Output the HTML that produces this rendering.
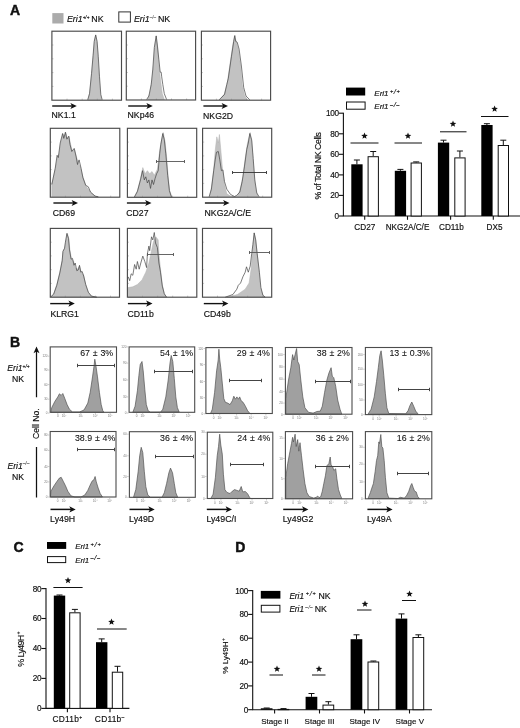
<!DOCTYPE html>
<html lang="en"><head><meta charset="utf-8"><title>Figure</title>
<style>html,body{margin:0;padding:0;background:#fff}svg{display:block}text{stroke:#111;stroke-width:.16px}text.t{stroke:none}</style></head>
<body>
<svg width="520" height="728" viewBox="0 0 520 728" font-family='"Liberation Sans", Arial, sans-serif' fill="#111">
<rect width="520" height="728" fill="#fff"/>
<text x="10.0" y="14.5" font-size="14" font-weight="bold" style="stroke-width:.45px">A</text>
<text x="10.0" y="347.3" font-size="14" font-weight="bold" style="stroke-width:.45px">B</text>
<text x="13.6" y="551.8" font-size="14" font-weight="bold" style="stroke-width:.45px">C</text>
<text x="235.3" y="551.8" font-size="14" font-weight="bold" style="stroke-width:.45px">D</text>
<rect x="52.3" y="13.1" width="11.2" height="10.4" fill="#ababab"/>
<text x="66.9" y="21.6" font-size="8.9" text-anchor="start"><tspan font-style="italic">Eri1</tspan><tspan font-size="4.6" dx="0.0" dy="-3.0" font-style="italic" fill="#111" stroke="#111" letter-spacing="0.0">+/+</tspan><tspan dy="3.0" dx="-0.6"> NK</tspan></text>
<rect x="118.8" y="11.9" width="11.6" height="10.2" fill="#fff" stroke="#333" stroke-width="1"/>
<text x="133.9" y="21.6" font-size="8.9" text-anchor="start"><tspan font-style="italic">Eri1</tspan><tspan font-size="4.6" dx="0.0" dy="-3.0" font-style="italic" fill="#777" stroke="#777" letter-spacing="0.0">–/–</tspan><tspan dy="3.0" dx="-0.6"> NK</tspan></text>
<polygon points="88.0,99.8 89.8,92.2 91.8,72.2 93.4,53.7 94.6,39.8 95.7,35.2 96.9,41.4 98.0,56.8 99.2,76.8 100.3,93.7 101.5,99.8" fill="#c2c2c2" stroke="#b0b0b0" stroke-width="0.5"/>
<polyline points="87.7,99.8 89.5,93.7 91.5,73.7 93.1,55.2 94.2,41.4 95.7,34.9 97.1,41.4 98.3,56.8 99.5,76.8 100.8,94.5 102.2,99.8" fill="none" stroke="#444" stroke-width="0.7" stroke-linejoin="round"/>
<path d="M51.9 86.4h1.6M51.9 72.6h1.6M51.9 58.8h1.6M51.9 45.0h1.6M67.0 100.2v-1.6M82.2 100.2v-1.6M97.3 100.2v-1.6M112.4 100.2v-1.6" stroke="#999" stroke-width="0.5" fill="none"/>
<rect x="51.9" y="31.2" width="69.6" height="69.0" fill="none" stroke="#4a4a4a" stroke-width="1.15"/>
<line x1="52.2" y1="106.0" x2="73.8" y2="106.0" stroke="#111" stroke-width="1.4"/>
<polygon points="76.8,106.0 70.4,102.9 72.0,106.0 70.4,109.1" fill="#111"/>
<text x="51.6" y="118.3" font-size="8.7">NK1.1</text>
<polygon points="147.4,99.5 149.7,93.7 152.0,79.8 153.5,64.5 154.6,47.5 156.2,35.5 157.7,47.5 158.9,64.5 160.5,79.8 162.3,93.7 164.3,99.5" fill="#c2c2c2" stroke="#b0b0b0" stroke-width="0.5"/>
<polyline points="146.6,99.5 148.9,96.0 151.2,84.5 152.8,69.1 154.3,47.5 156.2,36.0 157.4,46.0 158.9,59.8 160.2,72.2 161.2,72.2 161.7,76.8 162.8,84.5 164.3,93.7 166.6,99.5" fill="none" stroke="#444" stroke-width="0.7" stroke-linejoin="round"/>
<path d="M126.3 86.2h1.6M126.3 72.5h1.6M126.3 58.7h1.6M126.3 45.0h1.6M141.4 100.0v-1.6M156.4 100.0v-1.6M171.5 100.0v-1.6M186.6 100.0v-1.6" stroke="#999" stroke-width="0.5" fill="none"/>
<rect x="126.3" y="31.2" width="69.3" height="68.8" fill="none" stroke="#4a4a4a" stroke-width="1.15"/>
<line x1="128.2" y1="106.0" x2="149.8" y2="106.0" stroke="#111" stroke-width="1.4"/>
<polygon points="152.8,106.0 146.4,102.9 148.0,106.0 146.4,109.1" fill="#111"/>
<text x="127.6" y="118.3" font-size="8.7">NKp46</text>
<polygon points="219.8,99.8 224.5,93.7 227.5,81.4 230.6,59.8 232.9,44.5 234.5,36.0 236.3,41.4 238.3,49.1 240.6,66.0 242.2,84.5 244.5,95.2 247.5,99.8" fill="#c2c2c2" stroke="#b0b0b0" stroke-width="0.5"/>
<polyline points="219.1,99.8 224.5,94.5 226.8,84.5 228.3,78.3 231.4,56.8 233.7,41.4 234.8,35.5 235.7,41.4 237.2,42.2 239.1,49.1 241.4,66.0 243.7,87.5 246.0,96.0 249.8,99.8" fill="none" stroke="#444" stroke-width="0.7" stroke-linejoin="round"/>
<path d="M201.4 86.4h1.6M201.4 72.6h1.6M201.4 58.8h1.6M201.4 45.0h1.6M216.4 100.2v-1.6M231.5 100.2v-1.6M246.5 100.2v-1.6M261.6 100.2v-1.6" stroke="#999" stroke-width="0.5" fill="none"/>
<rect x="201.4" y="31.2" width="69.2" height="69.0" fill="none" stroke="#4a4a4a" stroke-width="1.15"/>
<line x1="203.4" y1="106.0" x2="225.0" y2="106.0" stroke="#111" stroke-width="1.4"/>
<polygon points="228.0,106.0 221.6,102.9 223.2,106.0 221.6,109.1" fill="#111"/>
<text x="203.1" y="118.6" font-size="8.7">NKG2D</text>
<polygon points="51.8,196.8 51.8,184.5 55.2,169.2 57.5,156.8 59.1,153.8 60.6,143.0 62.9,133.8 64.2,136.8 65.7,132.5 67.5,138.4 69.1,136.8 70.3,143.0 72.2,150.7 74.5,149.2 76.0,155.3 78.3,163.0 80.6,167.6 82.9,176.8 86.0,186.1 90.6,192.2 95.2,196.1 98.3,196.8" fill="#c2c2c2" stroke="#b0b0b0" stroke-width="0.5"/>
<polyline points="51.8,184.5 55.2,168.4 57.1,155.3 58.3,157.6 60.2,143.0 62.6,133.5 63.8,138.4 65.4,132.2 66.9,139.2 68.8,136.1 70.0,144.5 71.8,151.5 74.2,148.4 76.0,156.1 77.5,164.5 79.1,159.9 81.1,168.4 82.9,177.6 85.7,185.3 88.3,186.8 90.6,192.2 95.2,196.2 98.3,196.8" fill="none" stroke="#444" stroke-width="0.7" stroke-linejoin="round"/>
<path d="M50.3 183.4h1.6M50.3 169.6h1.6M50.3 155.9h1.6M50.3 142.1h1.6M65.4 197.2v-1.6M80.5 197.2v-1.6M95.6 197.2v-1.6M110.7 197.2v-1.6" stroke="#999" stroke-width="0.5" fill="none"/>
<rect x="50.3" y="128.3" width="69.5" height="68.9" fill="none" stroke="#4a4a4a" stroke-width="1.15"/>
<line x1="53.4" y1="203.0" x2="75.0" y2="203.0" stroke="#111" stroke-width="1.4"/>
<polygon points="78.0,203.0 71.6,199.9 73.2,203.0 71.6,206.1" fill="#111"/>
<text x="52.8" y="216.4" font-size="8.7">CD69</text>
<polygon points="134.3,197.2 137.4,190.7 140.5,178.4 142.8,167.6 145.1,173.8 147.4,170.7 149.7,173.8 152.0,171.5 154.3,175.3 157.4,169.2 159.7,150.7 161.2,141.5 163.2,132.5 165.1,141.5 166.6,156.8 168.2,176.8 169.7,190.7 172.0,197.2" fill="#c2c2c2" stroke="#b0b0b0" stroke-width="0.5"/>
<polyline points="134.3,197.2 137.4,191.5 140.5,179.9 142.5,170.7 144.3,179.9 145.8,176.8 147.4,183.0 148.9,179.9 150.5,188.4 152.0,179.9 153.5,184.5 155.1,178.4 156.6,173.8 158.2,170.7 159.7,153.8 160.8,144.5 162.8,133.5 164.3,139.9 165.8,153.8 167.7,175.3 169.4,190.7 171.5,197.2" fill="none" stroke="#444" stroke-width="0.7" stroke-linejoin="round"/>
<path d="M127.4 183.5h1.6M127.4 169.7h1.6M127.4 155.9h1.6M127.4 142.1h1.6M142.5 197.3v-1.6M157.5 197.3v-1.6M172.6 197.3v-1.6M187.7 197.3v-1.6" stroke="#999" stroke-width="0.5" fill="none"/>
<rect x="127.4" y="128.3" width="69.3" height="69.0" fill="none" stroke="#4a4a4a" stroke-width="1.15"/>
<path d="M156.5 161.5H184.5M156.5 160.0v3.0M184.5 160.0v3.0" stroke="#555" stroke-width="0.90" fill="none"/>
<line x1="126.9" y1="203.0" x2="148.5" y2="203.0" stroke="#111" stroke-width="1.4"/>
<polygon points="151.5,203.0 145.1,199.9 146.7,203.0 145.1,206.1" fill="#111"/>
<text x="126.3" y="216.2" font-size="8.7">CD27</text>
<polygon points="209.5,196.8 211.4,187.6 213.7,169.2 215.2,150.7 216.8,136.8 218.3,143.0 219.4,134.5 220.6,147.6 222.2,166.1 224.5,184.5 226.8,193.8 231.4,196.5 236.8,196.5 239.8,190.7 242.9,176.8 245.2,158.4 247.5,143.0 249.1,136.8 250.2,132.5 251.7,141.5 253.2,161.5 254.8,181.5 256.3,192.2 258.3,196.8" fill="#c2c2c2" stroke="#b0b0b0" stroke-width="0.5"/>
<polyline points="209.1,196.8 211.4,189.2 213.7,170.7 215.2,159.9 216.5,152.2 218.3,151.5 219.8,159.9 221.4,170.7 222.9,169.9 224.5,181.5 226.8,189.2 230.6,194.5 234.5,196.5 236.8,195.3 239.8,192.2 242.2,181.5 244.5,166.1 246.8,149.2 248.3,143.0 249.8,133.5 251.7,139.9 253.2,158.4 254.8,179.9 256.8,193.0 259.1,196.8" fill="none" stroke="#444" stroke-width="0.7" stroke-linejoin="round"/>
<path d="M202.6 183.4h1.6M202.6 169.6h1.6M202.6 155.9h1.6M202.6 142.1h1.6M217.6 197.2v-1.6M232.6 197.2v-1.6M247.7 197.2v-1.6M262.7 197.2v-1.6" stroke="#999" stroke-width="0.5" fill="none"/>
<rect x="202.6" y="128.3" width="69.1" height="68.9" fill="none" stroke="#4a4a4a" stroke-width="1.15"/>
<path d="M232.5 172.5H266.5M232.5 171.0v3.0M266.5 171.0v3.0" stroke="#333" stroke-width="0.90" fill="none"/>
<line x1="204.9" y1="203.0" x2="226.5" y2="203.0" stroke="#111" stroke-width="1.4"/>
<polygon points="229.5,203.0 223.1,199.9 224.7,203.0 223.1,206.1" fill="#111"/>
<text x="204.6" y="216.2" font-size="8.7">NKG2A/C/E</text>
<polygon points="50.9,296.8 53.7,293.8 56.8,284.5 59.8,272.2 62.2,259.9 63.2,250.7 64.8,247.6 65.7,241.5 67.2,233.0 68.8,238.4 69.8,249.2 71.4,258.4 73.7,261.5 75.2,267.6 77.5,269.2 79.5,266.1 81.4,272.2 83.7,275.3 85.7,284.5 88.3,292.2 91.4,296.1 96.8,297.2" fill="#c2c2c2" stroke="#b0b0b0" stroke-width="0.5"/>
<polyline points="50.9,296.8 53.7,294.1 56.8,285.3 59.8,273.0 62.2,260.7 62.9,251.5 64.5,248.4 65.4,242.2 66.9,233.5 68.5,238.4 69.5,249.9 71.1,259.2 72.5,258.4 74.0,265.3 75.2,263.0 76.8,270.7 78.3,269.9 79.5,265.3 80.8,272.2 82.2,271.5 83.7,276.1 85.7,284.5 88.3,292.2 91.4,296.1 96.8,297.2" fill="none" stroke="#444" stroke-width="0.7" stroke-linejoin="round"/>
<path d="M50.3 283.4h1.6M50.3 269.7h1.6M50.3 255.9h1.6M50.3 242.2h1.6M65.3 297.2v-1.6M80.4 297.2v-1.6M95.4 297.2v-1.6M110.5 297.2v-1.6" stroke="#999" stroke-width="0.5" fill="none"/>
<rect x="50.3" y="228.4" width="69.2" height="68.8" fill="none" stroke="#4a4a4a" stroke-width="1.15"/>
<line x1="50.2" y1="303.6" x2="71.8" y2="303.6" stroke="#111" stroke-width="1.4"/>
<polygon points="74.8,303.6 68.4,300.5 70.0,303.6 68.4,306.7" fill="#111"/>
<text x="50.4" y="317.0" font-size="8.7">KLRG1</text>
<polygon points="128.2,297.2 128.2,287.6 132.8,286.8 137.4,284.5 142.0,279.9 145.8,272.2 148.9,263.0 151.2,252.2 153.5,241.5 155.8,236.8 158.2,239.9 158.9,253.8 160.5,269.2 162.3,284.5 164.3,293.8 166.6,297.2" fill="#c2c2c2" stroke="#b0b0b0" stroke-width="0.5"/>
<polyline points="128.2,276.8 129.7,280.7 131.2,273.8 132.8,275.3 134.6,264.5 136.2,269.2 137.4,261.5 139.2,269.2 140.8,263.0 142.8,256.1 144.8,261.5 146.6,267.6 147.4,253.8 148.9,246.1 149.7,250.7 151.5,236.8 152.8,239.9 154.3,232.5 155.5,243.0 157.4,247.6 158.9,263.0 160.5,272.2 162.3,286.1 164.3,293.8 166.6,297.2" fill="none" stroke="#444" stroke-width="0.7" stroke-linejoin="round"/>
<path d="M127.4 283.4h1.6M127.4 269.7h1.6M127.4 255.9h1.6M127.4 242.2h1.6M142.5 297.2v-1.6M157.6 297.2v-1.6M172.7 297.2v-1.6M187.7 297.2v-1.6" stroke="#999" stroke-width="0.5" fill="none"/>
<rect x="127.4" y="228.4" width="69.4" height="68.8" fill="none" stroke="#4a4a4a" stroke-width="1.15"/>
<path d="M147.5 254.5H173.5M147.5 253.0v3.0M173.5 253.0v3.0" stroke="#555" stroke-width="0.90" fill="none"/>
<line x1="127.9" y1="303.6" x2="149.5" y2="303.6" stroke="#111" stroke-width="1.4"/>
<polygon points="152.5,303.6 146.1,300.5 147.7,303.6 146.1,306.7" fill="#111"/>
<text x="127.4" y="316.6" font-size="8.7">CD11b</text>
<polygon points="226.8,297.2 237.5,294.5 245.2,289.2 249.1,283.0 251.1,269.2 252.6,249.2 254.2,232.5 255.7,239.9 257.2,253.8 258.8,269.2 260.6,287.6 262.9,295.3 265.2,297.2" fill="#c2c2c2" stroke="#b0b0b0" stroke-width="0.5"/>
<polyline points="225.2,297.2 232.9,294.5 236.8,289.2 238.3,285.3 240.6,283.0 242.9,276.8 245.2,272.2 246.5,266.8 248.3,272.2 250.2,266.1 251.7,253.8 252.9,244.5 254.2,233.0 255.7,239.9 257.2,253.8 258.3,263.0 259.4,272.2 260.9,287.6 262.9,295.3 265.2,297.2" fill="none" stroke="#444" stroke-width="0.7" stroke-linejoin="round"/>
<path d="M202.5 283.4h1.6M202.5 269.7h1.6M202.5 255.9h1.6M202.5 242.2h1.6M217.5 297.2v-1.6M232.6 297.2v-1.6M247.6 297.2v-1.6M262.7 297.2v-1.6" stroke="#999" stroke-width="0.5" fill="none"/>
<rect x="202.5" y="228.4" width="69.2" height="68.8" fill="none" stroke="#4a4a4a" stroke-width="1.15"/>
<path d="M249.5 252.5H269.5M249.5 251.0v3.0M269.5 251.0v3.0" stroke="#555" stroke-width="0.90" fill="none"/>
<line x1="203.8" y1="303.6" x2="225.4" y2="303.6" stroke="#111" stroke-width="1.4"/>
<polygon points="228.4,303.6 222.0,300.5 223.6,303.6 222.0,306.7" fill="#111"/>
<text x="203.7" y="316.8" font-size="8.7">CD49b</text>
<path d="M343.4 112.7V216.0H520.0" stroke="#111" stroke-width="1.1" fill="none"/>
<line x1="338.9" y1="216.0" x2="343.4" y2="216.0" stroke="#111" stroke-width="1.1"/>
<text x="338.7" y="218.9" font-size="8.2" text-anchor="end" letter-spacing="-0.3">0</text>
<line x1="338.9" y1="195.4" x2="343.4" y2="195.4" stroke="#111" stroke-width="1.1"/>
<text x="338.7" y="198.3" font-size="8.2" text-anchor="end" letter-spacing="-0.3">20</text>
<line x1="338.9" y1="174.9" x2="343.4" y2="174.9" stroke="#111" stroke-width="1.1"/>
<text x="338.7" y="177.8" font-size="8.2" text-anchor="end" letter-spacing="-0.3">40</text>
<line x1="338.9" y1="154.3" x2="343.4" y2="154.3" stroke="#111" stroke-width="1.1"/>
<text x="338.7" y="157.2" font-size="8.2" text-anchor="end" letter-spacing="-0.3">60</text>
<line x1="338.9" y1="133.8" x2="343.4" y2="133.8" stroke="#111" stroke-width="1.1"/>
<text x="338.7" y="136.7" font-size="8.2" text-anchor="end" letter-spacing="-0.3">80</text>
<line x1="338.9" y1="113.2" x2="343.4" y2="113.2" stroke="#111" stroke-width="1.1"/>
<text x="338.7" y="116.1" font-size="8.2" text-anchor="end" letter-spacing="-0.3">100</text>
<path d="M356.9 164.3V160.0M353.9 160.0H359.9" stroke="#111" stroke-width="1" fill="none"/>
<rect x="351.3" y="164.3" width="11.3" height="51.7" fill="#000"/>
<path d="M373.2 156.2V151.5M370.2 151.5H376.2" stroke="#111" stroke-width="1" fill="none"/>
<rect x="368.1" y="156.7" width="10.3" height="59.3" fill="#fff" stroke="#111" stroke-width="1"/>
<line x1="364.7" y1="216.0" x2="364.7" y2="219.8" stroke="#111" stroke-width="1.1"/>
<text x="364.8" y="229.5" font-size="8.2" text-anchor="middle" letter-spacing="0.00">CD27</text>
<line x1="350.5" y1="143.0" x2="378.5" y2="143.0" stroke="#111" stroke-width="1"/>
<polygon points="364.5,132.5 365.4,134.8 367.8,134.9 365.9,136.5 366.6,138.8 364.5,137.5 362.4,138.8 363.1,136.5 361.2,134.9 363.6,134.8" fill="#111"/>
<path d="M400.4 170.8V169.4M397.4 169.4H403.4" stroke="#111" stroke-width="1" fill="none"/>
<rect x="394.8" y="170.8" width="11.3" height="45.2" fill="#000"/>
<path d="M416.2 162.5V161.9M413.2 161.9H419.2" stroke="#111" stroke-width="1" fill="none"/>
<rect x="411.1" y="163.0" width="10.3" height="53.0" fill="#fff" stroke="#111" stroke-width="1"/>
<line x1="407.5" y1="216.0" x2="407.5" y2="219.8" stroke="#111" stroke-width="1.1"/>
<text x="407.5" y="229.5" font-size="8.2" text-anchor="middle" letter-spacing="0.00">NKG2A/C/E</text>
<line x1="394.5" y1="143.0" x2="422.0" y2="143.0" stroke="#111" stroke-width="1"/>
<polygon points="408.0,132.5 408.9,134.8 411.3,134.9 409.4,136.5 410.1,138.8 408.0,137.5 405.9,138.8 406.6,136.5 404.7,134.9 407.1,134.8" fill="#111"/>
<path d="M443.5 142.6V140.2M440.5 140.2H446.5" stroke="#111" stroke-width="1" fill="none"/>
<rect x="437.9" y="142.6" width="11.3" height="73.4" fill="#000"/>
<path d="M459.9 157.4V151.0M456.9 151.0H462.9" stroke="#111" stroke-width="1" fill="none"/>
<rect x="454.8" y="157.9" width="10.3" height="58.1" fill="#fff" stroke="#111" stroke-width="1"/>
<line x1="450.6" y1="216.0" x2="450.6" y2="219.8" stroke="#111" stroke-width="1.1"/>
<text x="451.5" y="229.5" font-size="8.2" text-anchor="middle" letter-spacing="0.00">CD11b</text>
<line x1="440.0" y1="131.8" x2="466.5" y2="131.8" stroke="#111" stroke-width="1"/>
<polygon points="453.0,120.5 453.9,122.8 456.3,122.9 454.4,124.5 455.1,126.8 453.0,125.5 450.9,126.8 451.6,124.5 449.7,122.9 452.1,122.8" fill="#111"/>
<path d="M486.9 125.0V123.7M483.9 123.7H489.9" stroke="#111" stroke-width="1" fill="none"/>
<rect x="481.3" y="125.0" width="11.3" height="91.0" fill="#000"/>
<path d="M503.3 145.0V140.2M500.3 140.2H506.3" stroke="#111" stroke-width="1" fill="none"/>
<rect x="498.2" y="145.5" width="10.3" height="70.5" fill="#fff" stroke="#111" stroke-width="1"/>
<line x1="493.3" y1="216.0" x2="493.3" y2="219.8" stroke="#111" stroke-width="1.1"/>
<text x="494.5" y="229.5" font-size="8.2" text-anchor="middle" letter-spacing="0.00">DX5</text>
<line x1="481.0" y1="116.5" x2="508.5" y2="116.5" stroke="#111" stroke-width="1"/>
<polygon points="494.6,105.5 495.5,107.8 497.9,107.9 496.0,109.5 496.7,111.8 494.6,110.5 492.5,111.8 493.2,109.5 491.3,107.9 493.7,107.8" fill="#111"/>
<rect x="346" y="87.6" width="19.2" height="7.9" fill="#000"/>
<rect x="346.5" y="102" width="18.6" height="7.2" fill="#fff" stroke="#111" stroke-width="1"/>
<text x="374.3" y="95.5" font-size="8.0"><tspan font-style="italic">Eri1</tspan><tspan font-style="italic" font-size="5.6" dx="1.5" dy="-2.3" fill="#111" stroke="#111">+</tspan><tspan font-style="italic" font-size="7.6" dx="0.5" dy="0.6" fill="#111" stroke="#111" stroke-width="0.1">/</tspan><tspan font-style="italic" font-size="5.6" dx="0.5" dy="-0.6" fill="#111" stroke="#111">+</tspan></text>
<text x="374.3" y="109.4" font-size="8.0"><tspan font-style="italic">Eri1</tspan><tspan font-style="italic" font-size="5.6" dx="1.5" dy="-2.9" fill="#111" stroke="#111">–</tspan><tspan font-style="italic" font-size="7.6" dx="0.5" dy="0.6" fill="#111" stroke="#111" stroke-width="0.1">/</tspan><tspan font-style="italic" font-size="5.6" dx="0.5" dy="-0.6" fill="#111" stroke="#111">–</tspan></text>
<text transform="translate(321,166) rotate(-90)" font-size="8.8" text-anchor="middle" letter-spacing="-0.42">% of Total NK Cells</text>
<polygon points="50.9,412.3 51.7,407.7 54.8,401.5 57.8,396.9 59.4,393.8 61.2,395.4 62.8,393.5 64.8,398.5 67.1,404.6 69.4,409.2 72.5,412.0 79.4,412.0 84.0,410.0 87.8,403.1 90.2,392.3 92.5,376.9 94.0,366.2 94.8,359.2 96.0,366.2 97.5,376.9 99.4,392.3 101.2,404.6 102.8,410.8 104.0,412.3" fill="#a0a0a0" stroke="#4a4a4a" stroke-width="0.65" stroke-linejoin="round"/>
<rect x="50.2" y="346.9" width="66.3" height="65.4" fill="none" stroke="#4c4c4c" stroke-width="1.1"/>
<path d="M77.5 365.5H114.5M77.5 363.8v3.4M114.5 363.8v3.4" stroke="#444" stroke-width="1.00" fill="none"/>
<text style="stroke-width:.08px" x="113.2" y="355.8" font-size="8.8" text-anchor="end" word-spacing="0.4">67 ± 3%</text>
<text class="t" x="57.8" y="417.3" font-size="3.1" fill="#777" text-anchor="middle">0</text>
<text class="t" x="64.0" y="417.3" font-size="3.1" fill="#777" text-anchor="middle">10²</text>
<text class="t" x="80.8" y="417.3" font-size="3.1" fill="#777" text-anchor="middle">10³</text>
<text class="t" x="95.4" y="417.3" font-size="3.1" fill="#777" text-anchor="middle">10⁴</text>
<text class="t" x="110.1" y="417.3" font-size="3.1" fill="#777" text-anchor="middle">10⁵</text>
<text class="t" x="47.6" y="357.2" font-size="3.1" fill="#777" text-anchor="end">120</text>
<text class="t" x="47.6" y="371.0" font-size="3.1" fill="#777" text-anchor="end">90</text>
<text class="t" x="47.6" y="385.6" font-size="3.1" fill="#777" text-anchor="end">60</text>
<text class="t" x="47.6" y="400.2" font-size="3.1" fill="#777" text-anchor="end">30</text>
<text class="t" x="47.6" y="414.1" font-size="3.1" fill="#777" text-anchor="end">0</text>
<path d="M57.8 412.9v1.4M64.0 412.9v1.4M80.8 412.9v1.4M95.4 412.9v1.4M110.1 412.9v1.4M48.0 356.2h1.6M48.0 370.0h1.6M48.0 384.6h1.6M48.0 399.2h1.6M48.0 413.1h1.6" stroke="#999" stroke-width="0.5" fill="none"/>
<polygon points="132.8,412.3 135.1,406.2 137.4,390.8 138.9,375.4 140.2,364.6 142.0,361.5 143.2,370.8 144.8,389.2 146.3,404.6 148.2,410.8 150.5,412.3 160.5,412.3 162.8,409.2 165.8,396.9 168.2,380.0 170.0,363.1 171.2,355.4 172.8,361.5 174.3,378.5 175.8,396.9 177.4,407.7 179.2,412.0" fill="#a0a0a0" stroke="#4a4a4a" stroke-width="0.65" stroke-linejoin="round"/>
<rect x="129.1" y="346.9" width="65.6" height="65.4" fill="none" stroke="#4c4c4c" stroke-width="1.1"/>
<path d="M154.5 371.5H192.5M154.5 369.8v3.4M192.5 369.8v3.4" stroke="#444" stroke-width="1.00" fill="none"/>
<text style="stroke-width:.08px" x="193.1" y="355.5" font-size="8.8" text-anchor="end" word-spacing="0.4">54 ± 1%</text>
<text class="t" x="136.6" y="417.3" font-size="3.1" fill="#777" text-anchor="middle">0</text>
<text class="t" x="142.7" y="417.3" font-size="3.1" fill="#777" text-anchor="middle">10²</text>
<text class="t" x="159.4" y="417.3" font-size="3.1" fill="#777" text-anchor="middle">10³</text>
<text class="t" x="173.8" y="417.3" font-size="3.1" fill="#777" text-anchor="middle">10⁴</text>
<text class="t" x="188.4" y="417.3" font-size="3.1" fill="#777" text-anchor="middle">10⁵</text>
<text class="t" x="126.5" y="347.9" font-size="3.1" fill="#777" text-anchor="end">120</text>
<text class="t" x="126.5" y="364.1" font-size="3.1" fill="#777" text-anchor="end">90</text>
<text class="t" x="126.5" y="381.0" font-size="3.1" fill="#777" text-anchor="end">60</text>
<text class="t" x="126.5" y="397.9" font-size="3.1" fill="#777" text-anchor="end">30</text>
<text class="t" x="126.5" y="414.1" font-size="3.1" fill="#777" text-anchor="end">0</text>
<path d="M136.6 412.9v1.4M142.7 412.9v1.4M159.4 412.9v1.4M173.8 412.9v1.4M188.4 412.9v1.4M126.9 346.9h1.6M126.9 363.1h1.6M126.9 380.0h1.6M126.9 396.9h1.6M126.9 413.1h1.6" stroke="#999" stroke-width="0.5" fill="none"/>
<polygon points="210.5,413.5 212.3,409.2 214.6,392.3 216.6,370.8 218.2,360.0 218.9,349.2 219.7,359.2 220.8,367.7 222.3,383.1 223.8,398.5 225.4,402.3 227.7,403.1 230.0,404.6 232.3,400.8 233.8,396.2 235.4,399.2 236.9,396.9 238.5,399.2 239.7,396.9 241.2,400.8 243.1,402.3 245.4,406.2 247.7,410.8 250.0,413.5" fill="#a0a0a0" stroke="#4a4a4a" stroke-width="0.65" stroke-linejoin="round"/>
<rect x="205.9" y="347.6" width="66.4" height="65.9" fill="none" stroke="#4c4c4c" stroke-width="1.1"/>
<path d="M229.5 380.5H261.5M229.5 378.8v3.4M261.5 378.8v3.4" stroke="#444" stroke-width="1.00" fill="none"/>
<text style="stroke-width:.08px" x="269.8" y="355.8" font-size="8.8" text-anchor="end" word-spacing="0.4">29 ± 4%</text>
<text class="t" x="213.5" y="418.5" font-size="3.1" fill="#777" text-anchor="middle">0</text>
<text class="t" x="219.7" y="418.5" font-size="3.1" fill="#777" text-anchor="middle">10²</text>
<text class="t" x="236.6" y="418.5" font-size="3.1" fill="#777" text-anchor="middle">10³</text>
<text class="t" x="251.2" y="418.5" font-size="3.1" fill="#777" text-anchor="middle">10⁴</text>
<text class="t" x="265.9" y="418.5" font-size="3.1" fill="#777" text-anchor="middle">10⁵</text>
<text class="t" x="203.3" y="349.5" font-size="3.1" fill="#777" text-anchor="end">120</text>
<text class="t" x="203.3" y="365.6" font-size="3.1" fill="#777" text-anchor="end">90</text>
<text class="t" x="203.3" y="382.5" font-size="3.1" fill="#777" text-anchor="end">60</text>
<text class="t" x="203.3" y="398.7" font-size="3.1" fill="#777" text-anchor="end">30</text>
<text class="t" x="203.3" y="414.8" font-size="3.1" fill="#777" text-anchor="end">0</text>
<path d="M213.5 414.1v1.4M219.7 414.1v1.4M236.6 414.1v1.4M251.2 414.1v1.4M265.9 414.1v1.4M203.7 348.5h1.6M203.7 364.6h1.6M203.7 381.5h1.6M203.7 397.7h1.6M203.7 413.8h1.6" stroke="#999" stroke-width="0.5" fill="none"/>
<polygon points="285.8,414.2 285.8,398.5 288.5,380.0 290.8,367.7 292.6,354.6 293.8,360.0 295.1,354.6 296.6,348.5 297.7,361.5 299.2,364.6 300.8,380.0 302.8,396.9 304.9,407.7 308.5,412.3 313.1,413.1 316.9,411.5 320.3,411.1 322.3,406.2 324.6,392.3 326.9,380.0 328.9,373.1 331.1,367.7 332.3,376.2 333.8,377.7 335.7,386.2 337.7,400.0 340.0,409.2 341.8,414.2" fill="#a0a0a0" stroke="#4a4a4a" stroke-width="0.65" stroke-linejoin="round"/>
<rect x="285.4" y="347.5" width="66.6" height="66.7" fill="none" stroke="#4c4c4c" stroke-width="1.1"/>
<path d="M315.5 381.5H350.5M315.5 379.8v3.4M350.5 379.8v3.4" stroke="#444" stroke-width="1.00" fill="none"/>
<text style="stroke-width:.08px" x="349.8" y="355.8" font-size="8.8" text-anchor="end" word-spacing="0.4">38 ± 2%</text>
<text class="t" x="293.0" y="419.2" font-size="3.1" fill="#777" text-anchor="middle">0</text>
<text class="t" x="299.3" y="419.2" font-size="3.1" fill="#777" text-anchor="middle">10²</text>
<text class="t" x="316.2" y="419.2" font-size="3.1" fill="#777" text-anchor="middle">10³</text>
<text class="t" x="330.8" y="419.2" font-size="3.1" fill="#777" text-anchor="middle">10⁴</text>
<text class="t" x="345.6" y="419.2" font-size="3.1" fill="#777" text-anchor="middle">10⁵</text>
<text class="t" x="282.8" y="355.6" font-size="3.1" fill="#777" text-anchor="end">100</text>
<text class="t" x="282.8" y="367.9" font-size="3.1" fill="#777" text-anchor="end">80</text>
<text class="t" x="282.8" y="380.2" font-size="3.1" fill="#777" text-anchor="end">60</text>
<text class="t" x="282.8" y="392.5" font-size="3.1" fill="#777" text-anchor="end">40</text>
<text class="t" x="282.8" y="404.1" font-size="3.1" fill="#777" text-anchor="end">20</text>
<text class="t" x="282.8" y="415.6" font-size="3.1" fill="#777" text-anchor="end">0</text>
<path d="M293.0 414.8v1.4M299.3 414.8v1.4M316.2 414.8v1.4M330.8 414.8v1.4M345.6 414.8v1.4M283.2 354.6h1.6M283.2 366.9h1.6M283.2 379.2h1.6M283.2 391.5h1.6M283.2 403.1h1.6M283.2 414.6h1.6" stroke="#999" stroke-width="0.5" fill="none"/>
<polygon points="368.0,414.2 371.1,409.2 374.2,396.9 376.5,381.5 378.3,367.7 379.8,355.4 381.1,350.8 382.3,360.0 383.8,375.4 385.4,393.8 386.9,407.7 388.8,413.5 405.7,413.8 408.0,410.8 410.0,405.4 411.8,402.0 413.7,406.2 415.7,411.1 418.0,413.8" fill="#a0a0a0" stroke="#4a4a4a" stroke-width="0.65" stroke-linejoin="round"/>
<rect x="365.4" y="347.5" width="66.4" height="67.1" fill="none" stroke="#4c4c4c" stroke-width="1.1"/>
<path d="M398.5 389.5H429.5M398.5 387.8v3.4M429.5 387.8v3.4" stroke="#444" stroke-width="1.00" fill="none"/>
<text style="stroke-width:.08px" x="429.8" y="355.8" font-size="8.8" text-anchor="end" word-spacing="0.4">13 ± 0.3%</text>
<text class="t" x="373.0" y="419.6" font-size="3.1" fill="#777" text-anchor="middle">0</text>
<text class="t" x="379.2" y="419.6" font-size="3.1" fill="#777" text-anchor="middle">10²</text>
<text class="t" x="396.1" y="419.6" font-size="3.1" fill="#777" text-anchor="middle">10³</text>
<text class="t" x="410.7" y="419.6" font-size="3.1" fill="#777" text-anchor="middle">10⁴</text>
<text class="t" x="425.4" y="419.6" font-size="3.1" fill="#777" text-anchor="middle">10⁵</text>
<text class="t" x="362.8" y="355.6" font-size="3.1" fill="#777" text-anchor="end">200</text>
<text class="t" x="362.8" y="370.2" font-size="3.1" fill="#777" text-anchor="end">150</text>
<text class="t" x="362.8" y="385.6" font-size="3.1" fill="#777" text-anchor="end">100</text>
<text class="t" x="362.8" y="401.0" font-size="3.1" fill="#777" text-anchor="end">50</text>
<text class="t" x="362.8" y="415.6" font-size="3.1" fill="#777" text-anchor="end">0</text>
<path d="M373.0 415.2v1.4M379.2 415.2v1.4M396.1 415.2v1.4M410.7 415.2v1.4M425.4 415.2v1.4M363.2 354.6h1.6M363.2 369.2h1.6M363.2 384.6h1.6M363.2 400.0h1.6M363.2 414.6h1.6" stroke="#999" stroke-width="0.5" fill="none"/>
<polygon points="50.5,497.0 50.9,491.2 54.0,485.8 57.1,481.2 59.4,478.1 61.2,477.3 63.2,481.2 65.5,485.8 67.8,491.2 70.9,495.8 74.8,497.0 80.9,497.0 84.8,495.0 87.8,490.4 90.2,485.0 92.0,481.2 94.0,479.6 95.1,476.5 96.3,481.9 98.2,488.1 100.2,493.5 102.5,497.0" fill="#a0a0a0" stroke="#4a4a4a" stroke-width="0.65" stroke-linejoin="round"/>
<rect x="50.2" y="431.5" width="65.8" height="65.5" fill="none" stroke="#4c4c4c" stroke-width="1.1"/>
<path d="M77.5 449.5H114.5M77.5 447.8v3.4M114.5 447.8v3.4" stroke="#444" stroke-width="1.00" fill="none"/>
<text style="stroke-width:.08px" x="115.3" y="441.2" font-size="8.8" text-anchor="end" word-spacing="0.4">38.9 ± 4%</text>
<text class="t" x="57.7" y="502.0" font-size="3.1" fill="#777" text-anchor="middle">0</text>
<text class="t" x="63.9" y="502.0" font-size="3.1" fill="#777" text-anchor="middle">10²</text>
<text class="t" x="80.6" y="502.0" font-size="3.1" fill="#777" text-anchor="middle">10³</text>
<text class="t" x="95.1" y="502.0" font-size="3.1" fill="#777" text-anchor="middle">10⁴</text>
<text class="t" x="109.7" y="502.0" font-size="3.1" fill="#777" text-anchor="middle">10⁵</text>
<text class="t" x="47.6" y="436.0" font-size="3.1" fill="#777" text-anchor="end">80</text>
<text class="t" x="47.6" y="451.4" font-size="3.1" fill="#777" text-anchor="end">60</text>
<text class="t" x="47.6" y="467.5" font-size="3.1" fill="#777" text-anchor="end">40</text>
<text class="t" x="47.6" y="482.9" font-size="3.1" fill="#777" text-anchor="end">20</text>
<text class="t" x="47.6" y="498.0" font-size="3.1" fill="#777" text-anchor="end">0</text>
<path d="M57.7 497.6v1.4M63.9 497.6v1.4M80.6 497.6v1.4M95.1 497.6v1.4M109.7 497.6v1.4M48.0 435.0h1.6M48.0 450.4h1.6M48.0 466.5h1.6M48.0 481.9h1.6M48.0 497.0h1.6" stroke="#999" stroke-width="0.5" fill="none"/>
<polygon points="133.5,497.3 135.8,489.6 138.2,471.2 139.7,455.8 141.2,447.3 142.8,452.7 144.3,471.2 145.8,486.5 147.8,495.0 150.5,497.3 162.0,497.3 164.3,492.7 166.6,483.5 168.9,472.7 170.5,468.1 172.5,472.7 174.3,483.5 175.8,492.7 177.7,497.3" fill="#a0a0a0" stroke="#4a4a4a" stroke-width="0.65" stroke-linejoin="round"/>
<rect x="129.4" y="431.7" width="65.9" height="65.6" fill="none" stroke="#4c4c4c" stroke-width="1.1"/>
<path d="M155.5 456.5H193.5M155.5 454.8v3.4M193.5 454.8v3.4" stroke="#444" stroke-width="1.00" fill="none"/>
<text style="stroke-width:.08px" x="193.1" y="441.2" font-size="8.8" text-anchor="end" word-spacing="0.4">36 ± 4%</text>
<text class="t" x="136.9" y="502.3" font-size="3.1" fill="#777" text-anchor="middle">0</text>
<text class="t" x="143.1" y="502.3" font-size="3.1" fill="#777" text-anchor="middle">10²</text>
<text class="t" x="159.8" y="502.3" font-size="3.1" fill="#777" text-anchor="middle">10³</text>
<text class="t" x="174.3" y="502.3" font-size="3.1" fill="#777" text-anchor="middle">10⁴</text>
<text class="t" x="189.0" y="502.3" font-size="3.1" fill="#777" text-anchor="middle">10⁵</text>
<text class="t" x="126.8" y="435.2" font-size="3.1" fill="#777" text-anchor="end">60</text>
<text class="t" x="126.8" y="456.8" font-size="3.1" fill="#777" text-anchor="end">40</text>
<text class="t" x="126.8" y="477.5" font-size="3.1" fill="#777" text-anchor="end">20</text>
<text class="t" x="126.8" y="498.3" font-size="3.1" fill="#777" text-anchor="end">0</text>
<path d="M136.9 497.9v1.4M143.1 497.9v1.4M159.8 497.9v1.4M174.3 497.9v1.4M189.0 497.9v1.4M127.2 434.2h1.6M127.2 455.8h1.6M127.2 476.5h1.6M127.2 497.3h1.6" stroke="#999" stroke-width="0.5" fill="none"/>
<polygon points="210.8,498.5 213.1,494.2 215.4,477.3 217.2,455.8 218.5,446.5 219.7,434.2 220.8,445.0 222.3,454.2 223.4,474.2 224.9,489.6 226.9,492.4 230.0,493.5 232.3,491.2 234.6,489.6 236.9,490.4 239.2,491.2 241.2,486.5 242.8,491.9 245.4,491.5 247.7,493.9 249.5,497.3 250.8,498.5" fill="#a0a0a0" stroke="#4a4a4a" stroke-width="0.65" stroke-linejoin="round"/>
<rect x="207.3" y="432.2" width="65.5" height="66.3" fill="none" stroke="#4c4c4c" stroke-width="1.1"/>
<path d="M230.5 464.5H263.5M230.5 462.8v3.4M263.5 462.8v3.4" stroke="#444" stroke-width="1.00" fill="none"/>
<text style="stroke-width:.08px" x="270.3" y="441.2" font-size="8.8" text-anchor="end" word-spacing="0.4">24 ± 4%</text>
<text class="t" x="214.8" y="503.5" font-size="3.1" fill="#777" text-anchor="middle">0</text>
<text class="t" x="220.9" y="503.5" font-size="3.1" fill="#777" text-anchor="middle">10²</text>
<text class="t" x="237.6" y="503.5" font-size="3.1" fill="#777" text-anchor="middle">10³</text>
<text class="t" x="252.0" y="503.5" font-size="3.1" fill="#777" text-anchor="middle">10⁴</text>
<text class="t" x="266.5" y="503.5" font-size="3.1" fill="#777" text-anchor="middle">10⁵</text>
<text class="t" x="204.7" y="433.4" font-size="3.1" fill="#777" text-anchor="end">30</text>
<text class="t" x="204.7" y="455.2" font-size="3.1" fill="#777" text-anchor="end">20</text>
<text class="t" x="204.7" y="477.5" font-size="3.1" fill="#777" text-anchor="end">10</text>
<text class="t" x="204.7" y="499.5" font-size="3.1" fill="#777" text-anchor="end">0</text>
<path d="M214.8 499.1v1.4M220.9 499.1v1.4M237.6 499.1v1.4M252.0 499.1v1.4M266.5 499.1v1.4M205.1 432.4h1.6M205.1 454.2h1.6M205.1 476.5h1.6M205.1 498.5h1.6" stroke="#999" stroke-width="0.5" fill="none"/>
<polygon points="285.8,498.5 285.8,477.3 287.7,463.5 290.0,451.2 291.5,443.5 292.6,437.3 293.5,441.9 295.1,434.2 296.2,446.5 297.7,439.6 298.8,451.2 300.0,442.7 301.5,455.8 303.1,469.6 304.9,483.5 306.9,492.7 309.2,496.5 313.8,498.1 316.2,497.3 317.7,496.1 319.2,497.6 320.8,496.5 322.3,491.2 323.8,483.5 325.4,475.8 326.9,465.8 328.9,463.5 330.2,457.0 331.1,465.0 332.6,466.5 333.8,470.4 335.7,468.8 336.9,478.8 338.5,489.6 340.3,495.0 341.8,498.5" fill="#a0a0a0" stroke="#4a4a4a" stroke-width="0.65" stroke-linejoin="round"/>
<rect x="285.4" y="431.6" width="67.2" height="67.2" fill="none" stroke="#4c4c4c" stroke-width="1.1"/>
<path d="M315.5 466.5H349.5M315.5 464.8v3.4M349.5 464.8v3.4" stroke="#444" stroke-width="1.00" fill="none"/>
<text style="stroke-width:.08px" x="348.8" y="441.2" font-size="8.8" text-anchor="end" word-spacing="0.4">36 ± 2%</text>
<text class="t" x="293.1" y="503.8" font-size="3.1" fill="#777" text-anchor="middle">0</text>
<text class="t" x="299.4" y="503.8" font-size="3.1" fill="#777" text-anchor="middle">10²</text>
<text class="t" x="316.4" y="503.8" font-size="3.1" fill="#777" text-anchor="middle">10³</text>
<text class="t" x="331.2" y="503.8" font-size="3.1" fill="#777" text-anchor="middle">10⁴</text>
<text class="t" x="346.1" y="503.8" font-size="3.1" fill="#777" text-anchor="middle">10⁵</text>
<text class="t" x="282.8" y="439.1" font-size="3.1" fill="#777" text-anchor="end">15</text>
<text class="t" x="282.8" y="459.5" font-size="3.1" fill="#777" text-anchor="end">10</text>
<text class="t" x="282.8" y="479.8" font-size="3.1" fill="#777" text-anchor="end">5</text>
<text class="t" x="282.8" y="499.8" font-size="3.1" fill="#777" text-anchor="end">0</text>
<path d="M293.1 499.4v1.4M299.4 499.4v1.4M316.4 499.4v1.4M331.2 499.4v1.4M346.1 499.4v1.4M283.2 438.1h1.6M283.2 458.5h1.6M283.2 478.8h1.6M283.2 498.8h1.6" stroke="#999" stroke-width="0.5" fill="none"/>
<polygon points="368.0,498.5 370.3,492.7 371.8,488.1 373.4,483.5 375.2,471.2 376.5,460.4 377.7,455.8 378.8,441.9 379.5,443.5 380.8,434.5 381.8,446.5 382.9,448.1 384.2,460.4 385.4,477.3 386.9,492.7 388.8,498.1 398.0,498.5 400.3,497.3 404.2,498.1 406.5,495.8 408.8,491.2 410.6,485.8 411.8,483.5 413.1,487.3 414.6,491.2 416.2,491.9 417.7,496.5 419.5,498.5" fill="#a0a0a0" stroke="#4a4a4a" stroke-width="0.65" stroke-linejoin="round"/>
<rect x="365.4" y="431.6" width="66.4" height="67.2" fill="none" stroke="#4c4c4c" stroke-width="1.1"/>
<path d="M397.5 473.5H428.5M397.5 471.8v3.4M428.5 471.8v3.4" stroke="#444" stroke-width="1.00" fill="none"/>
<text style="stroke-width:.08px" x="429.8" y="441.2" font-size="8.8" text-anchor="end" word-spacing="0.4">16 ± 2%</text>
<text class="t" x="373.0" y="503.8" font-size="3.1" fill="#777" text-anchor="middle">0</text>
<text class="t" x="379.2" y="503.8" font-size="3.1" fill="#777" text-anchor="middle">10²</text>
<text class="t" x="396.1" y="503.8" font-size="3.1" fill="#777" text-anchor="middle">10³</text>
<text class="t" x="410.7" y="503.8" font-size="3.1" fill="#777" text-anchor="middle">10⁴</text>
<text class="t" x="425.4" y="503.8" font-size="3.1" fill="#777" text-anchor="middle">10⁵</text>
<text class="t" x="362.8" y="448.3" font-size="3.1" fill="#777" text-anchor="end">30</text>
<text class="t" x="362.8" y="465.2" font-size="3.1" fill="#777" text-anchor="end">20</text>
<text class="t" x="362.8" y="482.9" font-size="3.1" fill="#777" text-anchor="end">10</text>
<text class="t" x="362.8" y="499.8" font-size="3.1" fill="#777" text-anchor="end">0</text>
<path d="M373.0 499.4v1.4M379.2 499.4v1.4M396.1 499.4v1.4M410.7 499.4v1.4M425.4 499.4v1.4M363.2 447.3h1.6M363.2 464.2h1.6M363.2 481.9h1.6M363.2 498.8h1.6" stroke="#999" stroke-width="0.5" fill="none"/>
<text x="18.4" y="371.1" font-size="8.6" text-anchor="middle"><tspan font-style="italic">Eri1</tspan><tspan font-size="4.8" dx="0.0" dy="-3.3" font-style="italic" fill="#111" stroke="#111" letter-spacing="0.0">+/+</tspan></text>
<text x="18.0" y="381.9" font-size="8.7" text-anchor="middle">NK</text>
<text x="18.4" y="468.7" font-size="8.6" text-anchor="middle"><tspan font-style="italic">Eri1</tspan><tspan font-size="4.8" dx="0.0" dy="-3.3" font-style="italic" fill="#666" stroke="#666" letter-spacing="0.0">–/–</tspan></text>
<text x="18.0" y="479.7" font-size="8.7" text-anchor="middle">NK</text>
<path d="M36.5 351V397.3M36.5 447V497.6" stroke="#111" stroke-width="1.25" fill="none"/>
<polygon points="36.5,346.6 33.5,353.2 36.5,351.6 39.5,353.2" fill="#111"/>
<text transform="translate(39.3,423.6) rotate(-90)" font-size="8.6" text-anchor="middle">Cell No.</text>
<line x1="50.5" y1="509.4" x2="72.7" y2="509.4" stroke="#111" stroke-width="1.5"/>
<polygon points="75.7,509.4 69.3,506.3 70.9,509.4 69.3,512.5" fill="#111"/>
<text x="50.1" y="522.3" font-size="8.8">Ly49H</text>
<line x1="129.5" y1="509.4" x2="151.7" y2="509.4" stroke="#111" stroke-width="1.5"/>
<polygon points="154.7,509.4 148.3,506.3 149.9,509.4 148.3,512.5" fill="#111"/>
<text x="129.1" y="522.3" font-size="8.8">Ly49D</text>
<line x1="206.8" y1="509.4" x2="229.0" y2="509.4" stroke="#111" stroke-width="1.5"/>
<polygon points="232.0,509.4 225.6,506.3 227.2,509.4 225.6,512.5" fill="#111"/>
<text x="206.4" y="522.3" font-size="8.8">Ly49C/I</text>
<line x1="283.2" y1="509.4" x2="305.4" y2="509.4" stroke="#111" stroke-width="1.5"/>
<polygon points="308.4,509.4 302.0,506.3 303.6,509.4 302.0,512.5" fill="#111"/>
<text x="282.8" y="522.3" font-size="8.8">Ly49G2</text>
<line x1="367.4" y1="509.4" x2="389.6" y2="509.4" stroke="#111" stroke-width="1.5"/>
<polygon points="392.6,509.4 386.2,506.3 387.8,509.4 386.2,512.5" fill="#111"/>
<text x="367.0" y="522.3" font-size="8.8">Ly49A</text>
<path d="M46.0 588.1V708.4H129.4" stroke="#111" stroke-width="1.1" fill="none"/>
<line x1="41.4" y1="708.4" x2="46.0" y2="708.4" stroke="#111" stroke-width="1.1"/>
<text x="41.2" y="711.3" font-size="8.2" text-anchor="end" letter-spacing="-0.3">0</text>
<line x1="41.4" y1="678.4" x2="46.0" y2="678.4" stroke="#111" stroke-width="1.1"/>
<text x="41.2" y="681.3" font-size="8.2" text-anchor="end" letter-spacing="-0.3">20</text>
<line x1="41.4" y1="648.5" x2="46.0" y2="648.5" stroke="#111" stroke-width="1.1"/>
<text x="41.2" y="651.4" font-size="8.2" text-anchor="end" letter-spacing="-0.3">40</text>
<line x1="41.4" y1="618.5" x2="46.0" y2="618.5" stroke="#111" stroke-width="1.1"/>
<text x="41.2" y="621.4" font-size="8.2" text-anchor="end" letter-spacing="-0.3">60</text>
<line x1="41.4" y1="588.6" x2="46.0" y2="588.6" stroke="#111" stroke-width="1.1"/>
<text x="41.2" y="591.5" font-size="8.2" text-anchor="end" letter-spacing="-0.3">80</text>
<path d="M59.5 595.6V595.0M56.5 595.0H62.5" stroke="#111" stroke-width="1" fill="none"/>
<rect x="53.8" y="595.6" width="11.4" height="112.8" fill="#000"/>
<path d="M74.9 612.3V609.4M71.9 609.4H77.9" stroke="#111" stroke-width="1" fill="none"/>
<rect x="69.7" y="612.8" width="10.4" height="95.6" fill="#fff" stroke="#111" stroke-width="1"/>
<line x1="67.4" y1="708.4" x2="67.4" y2="712.2" stroke="#111" stroke-width="1.1"/>
<text x="67.4" y="721.9" font-size="8.4" text-anchor="middle" letter-spacing="0.25">CD11b<tspan font-size="5" dy="-3">+</tspan></text>
<line x1="53.4" y1="587.5" x2="82.6" y2="587.5" stroke="#111" stroke-width="1"/>
<polygon points="68.0,577.0 68.9,579.3 71.3,579.4 69.4,581.0 70.1,583.3 68.0,582.0 65.9,583.3 66.6,581.0 64.7,579.4 67.1,579.3" fill="#111"/>
<path d="M101.7 642.2V638.9M98.7 638.9H104.7" stroke="#111" stroke-width="1" fill="none"/>
<rect x="96.0" y="642.2" width="11.4" height="66.2" fill="#000"/>
<path d="M117.5 671.7V666.3M114.5 666.3H120.5" stroke="#111" stroke-width="1" fill="none"/>
<rect x="112.3" y="672.2" width="10.4" height="36.2" fill="#fff" stroke="#111" stroke-width="1"/>
<line x1="110.0" y1="708.4" x2="110.0" y2="712.2" stroke="#111" stroke-width="1.1"/>
<text x="109.7" y="721.9" font-size="8.4" text-anchor="middle" letter-spacing="0.25">CD11b<tspan font-size="5" dy="-3">–</tspan></text>
<line x1="97.0" y1="629.0" x2="126.7" y2="629.0" stroke="#111" stroke-width="1"/>
<polygon points="111.5,618.5 112.4,620.8 114.8,620.9 112.9,622.5 113.6,624.8 111.5,623.5 109.4,624.8 110.1,622.5 108.2,620.9 110.6,620.8" fill="#111"/>
<rect x="47" y="542" width="19.2" height="6.9" fill="#000"/>
<rect x="47.5" y="556.6" width="18.2" height="6.0" fill="#fff" stroke="#111" stroke-width="1"/>
<text x="75.2" y="548.8" font-size="7.8"><tspan font-style="italic">Eri1</tspan><tspan font-style="italic" font-size="5.6" dx="1.5" dy="-2.8" fill="#111" stroke="#111">+</tspan><tspan font-style="italic" font-size="7.6" dx="0.7" dy="0.6" fill="#111" stroke="#111" stroke-width="0.1">/</tspan><tspan font-style="italic" font-size="5.6" dx="0.7" dy="-0.6" fill="#111" stroke="#111">+</tspan></text>
<text x="75.2" y="562.9" font-size="7.8"><tspan font-style="italic">Eri1</tspan><tspan font-style="italic" font-size="5.6" dx="1.5" dy="-3.4" fill="#111" stroke="#111">–</tspan><tspan font-style="italic" font-size="7.6" dx="0.6" dy="0.6" fill="#111" stroke="#111" stroke-width="0.1">/</tspan><tspan font-style="italic" font-size="5.6" dx="0.6" dy="-0.6" fill="#111" stroke="#111">–</tspan></text>
<text transform="translate(23.7,649.5) rotate(-90)" font-size="9" text-anchor="middle" letter-spacing="-0.7">% Ly49H<tspan font-size="5" dy="-3.6" dx="0.8">+</tspan></text>
<path d="M252.7 590.1V709.7H432.0" stroke="#111" stroke-width="1.1" fill="none"/>
<line x1="248.1" y1="709.7" x2="252.7" y2="709.7" stroke="#111" stroke-width="1.1"/>
<text x="247.9" y="712.6" font-size="8.2" text-anchor="end" letter-spacing="-0.3">0</text>
<line x1="248.1" y1="685.9" x2="252.7" y2="685.9" stroke="#111" stroke-width="1.1"/>
<text x="247.9" y="688.8" font-size="8.2" text-anchor="end" letter-spacing="-0.3">20</text>
<line x1="248.1" y1="662.1" x2="252.7" y2="662.1" stroke="#111" stroke-width="1.1"/>
<text x="247.9" y="665.0" font-size="8.2" text-anchor="end" letter-spacing="-0.3">40</text>
<line x1="248.1" y1="638.2" x2="252.7" y2="638.2" stroke="#111" stroke-width="1.1"/>
<text x="247.9" y="641.1" font-size="8.2" text-anchor="end" letter-spacing="-0.3">60</text>
<line x1="248.1" y1="614.4" x2="252.7" y2="614.4" stroke="#111" stroke-width="1.1"/>
<text x="247.9" y="617.3" font-size="8.2" text-anchor="end" letter-spacing="-0.3">80</text>
<line x1="248.1" y1="590.6" x2="252.7" y2="590.6" stroke="#111" stroke-width="1.1"/>
<text x="247.9" y="593.5" font-size="8.2" text-anchor="end" letter-spacing="-0.3">100</text>
<path d="M266.7 708.3V708.0M263.7 708.0H269.7" stroke="#111" stroke-width="1" fill="none"/>
<rect x="260.8" y="708.3" width="11.7" height="1.4" fill="#000"/>
<path d="M283.5 708.9V708.6M280.5 708.6H286.5" stroke="#111" stroke-width="1" fill="none"/>
<rect x="278.1" y="709.4" width="10.7" height="0.3" fill="#fff" stroke="#111" stroke-width="1"/>
<line x1="274.6" y1="709.7" x2="274.6" y2="713.5" stroke="#111" stroke-width="1.1"/>
<text x="275.0" y="723.5" font-size="8.0" text-anchor="middle" letter-spacing="0.00">Stage II</text>
<line x1="269.5" y1="675.0" x2="283.0" y2="675.0" stroke="#111" stroke-width="1"/>
<polygon points="277.0,665.5 277.9,667.8 280.3,667.9 278.4,669.5 279.1,671.8 277.0,670.5 274.9,671.8 275.6,669.5 273.7,667.9 276.1,667.8" fill="#111"/>
<path d="M311.5 696.8V693.5M308.5 693.5H314.5" stroke="#111" stroke-width="1" fill="none"/>
<rect x="305.6" y="696.8" width="11.7" height="12.9" fill="#000"/>
<path d="M328.4 704.6V701.7M325.4 701.7H331.4" stroke="#111" stroke-width="1" fill="none"/>
<rect x="323.0" y="705.1" width="10.7" height="4.6" fill="#fff" stroke="#111" stroke-width="1"/>
<line x1="319.5" y1="709.7" x2="319.5" y2="713.5" stroke="#111" stroke-width="1.1"/>
<text x="319.5" y="723.5" font-size="8.0" text-anchor="middle" letter-spacing="0.00">Stage III</text>
<line x1="312.0" y1="675.0" x2="325.5" y2="675.0" stroke="#111" stroke-width="1"/>
<polygon points="319.0,665.5 319.9,667.8 322.3,667.9 320.4,669.5 321.1,671.8 319.0,670.5 316.9,671.8 317.6,669.5 315.7,667.9 318.1,667.8" fill="#111"/>
<path d="M356.5 639.2V634.8M353.5 634.8H359.5" stroke="#111" stroke-width="1" fill="none"/>
<rect x="350.6" y="639.2" width="11.7" height="70.5" fill="#000"/>
<path d="M373.4 661.5V661.0M370.4 661.0H376.4" stroke="#111" stroke-width="1" fill="none"/>
<rect x="368.0" y="662.0" width="10.7" height="47.7" fill="#fff" stroke="#111" stroke-width="1"/>
<line x1="364.5" y1="709.7" x2="364.5" y2="713.5" stroke="#111" stroke-width="1.1"/>
<text x="364.8" y="723.5" font-size="8.0" text-anchor="middle" letter-spacing="0.00">Stage IV</text>
<line x1="357.0" y1="610.0" x2="371.5" y2="610.0" stroke="#111" stroke-width="1"/>
<polygon points="365.0,600.5 365.9,602.8 368.3,602.9 366.4,604.5 367.1,606.8 365.0,605.5 362.9,606.8 363.6,604.5 361.7,602.9 364.1,602.8" fill="#111"/>
<path d="M401.5 618.6V613.9M398.5 613.9H404.5" stroke="#111" stroke-width="1" fill="none"/>
<rect x="395.6" y="618.6" width="11.7" height="91.1" fill="#000"/>
<path d="M418.4 637.0V634.8M415.4 634.8H421.4" stroke="#111" stroke-width="1" fill="none"/>
<rect x="413.0" y="637.5" width="10.7" height="72.2" fill="#fff" stroke="#111" stroke-width="1"/>
<line x1="409.5" y1="709.7" x2="409.5" y2="713.5" stroke="#111" stroke-width="1.1"/>
<text x="409.8" y="723.5" font-size="8.0" text-anchor="middle" letter-spacing="0.00">Stage V</text>
<line x1="402.0" y1="600.5" x2="416.0" y2="600.5" stroke="#111" stroke-width="1"/>
<polygon points="409.5,590.5 410.4,592.8 412.8,592.9 410.9,594.5 411.6,596.8 409.5,595.5 407.4,596.8 408.1,594.5 406.2,592.9 408.6,592.8" fill="#111"/>
<rect x="260.8" y="590.9" width="19.6" height="7.7" fill="#000"/>
<rect x="261.3" y="605.3" width="18.6" height="6.8" fill="#fff" stroke="#111" stroke-width="1"/>
<text x="289.4" y="598.5" font-size="8.2"><tspan font-style="italic">Eri1</tspan><tspan font-style="italic" font-size="5.4" dx="1.8" dy="-3.1" fill="#111" stroke="#111">+</tspan><tspan font-style="italic" font-size="7.2" dx="0.8" dy="0.6" fill="#111" stroke="#111" stroke-width="0.1">/</tspan><tspan font-style="italic" font-size="5.4" dx="0.8" dy="-0.6" fill="#111" stroke="#111">+</tspan><tspan dy="3.1" dx="0.3" font-size="8.7"> NK</tspan></text>
<text x="289.4" y="612.4" font-size="8.2"><tspan font-style="italic">Eri1</tspan><tspan font-style="italic" font-size="4.6" dx="1.4" dy="-3.7" fill="#555" stroke="#555">–</tspan><tspan font-style="italic" font-size="6.0" dx="0.2" dy="0.6" fill="#555" stroke="#555" stroke-width="0.1">/</tspan><tspan font-style="italic" font-size="4.6" dx="0.2" dy="-0.6" fill="#555" stroke="#555">–</tspan><tspan dy="3.7" dx="-0.2" font-size="8.7"> NK</tspan></text>
<text transform="translate(228,656) rotate(-90)" font-size="8.1" text-anchor="middle" letter-spacing="-0.05">% Ly49H<tspan font-size="4.6" dy="-3.2" dx="0.5">+</tspan></text>
</svg>
</body></html>
